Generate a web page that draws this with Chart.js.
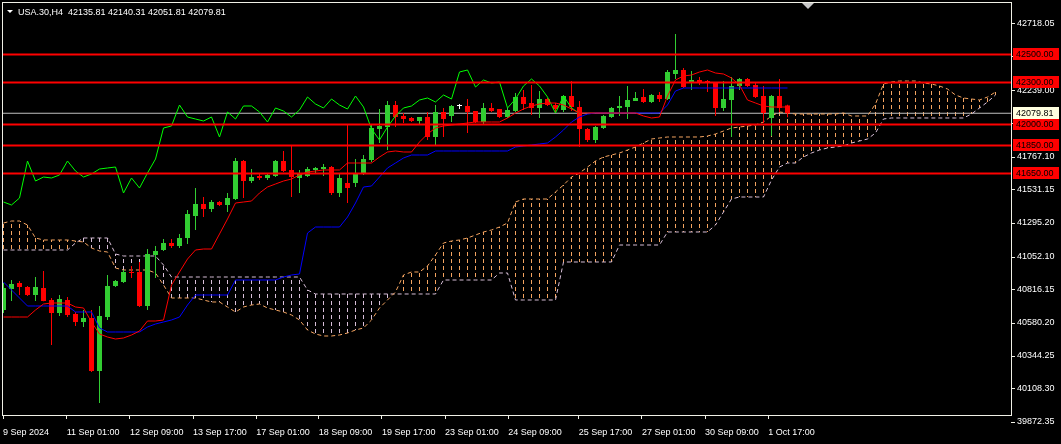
<!DOCTYPE html>
<html>
<head>
<meta charset="utf-8">
<script src="https://cdn.jsdelivr.net/npm/chart.js@4.4.1/dist/chart.umd.min.js"></script>
<style>
html, body { margin: 0; padding: 0; background: #000; overflow: hidden; }
canvas { display: block; }
</style>
</head>
<body>
<canvas id="grafico" width="1061" height="444"></canvas>
<script>
// USA.30 H4, 9 Sep - 2 Oct 2024
const simbolo = 'USA.30,H4';

const apertura = [40673.2, 40823.3, 40866.2, 40837.6, 40780.4, 40830.5, 40744.7, 40651.7, 40744.7, 40644.6,
  40587.4, 40616.0, 40237.0, 40623.2, 40844.8, 40873.4, 40944.9, 40944.9, 40701.8, 41066.4,
  41102.2, 41152.2, 41130.8, 41188.0, 41345.2, 41431.0, 41395.3, 41445.3, 41423.9, 41466.8,
  41738.5, 41595.5, 41631.3, 41617.0, 41631.3, 41738.5, 41674.2, 41617.0, 41631.3, 41674.2,
  41681.3, 41695.6, 41509.7, 41581.2, 41581.2, 41645.6, 41745.7, 41967.3, 41981.6, 42138.9,
  42060.3, 42046.0, 42024.5, 42053.1, 41910.2, 42088.9, 42060.3, 42131.8, 42131.8, 42096.0,
  42017.4, 42117.5, 42110.3, 42053.1, 42096.0, 42196.1, 42153.2, 42117.5, 42181.8, 42138.9,
  42103.2, 42203.3, 42124.6, 41967.3, 41888.7, 41974.5, 42053.1, 42117.5, 42124.6, 42167.5,
  42196.1, 42160.4, 42210.4, 42181.8, 42360.6, 42389.2, 42296.2, 42317.7, 42310.5, 42296.2,
  42117.5, 42174.7, 42274.8, 42324.8, 42281.9, 42203.3, 42046.0, 42203.3, 42135.81];

const massimo = [40866.2, 40887.6, 40880.5, 40844.8, 40909.1, 40952.0, 40759.0, 40780.4, 40766.1, 40658.8,
  40673.2, 40673.2, 40701.8, 40923.4, 40887.6, 40959.0, 40987.8, 41016.4, 41109.3, 41130.8,
  41180.8, 41180.8, 41216.6, 41388.2, 41545.5, 41481.1, 41459.7, 41452.5, 41509.7, 41760.0,
  41745.7, 41681.3, 41652.7, 41645.6, 41745.7, 41810.1, 41845.8, 41674.2, 41695.6, 41695.6,
  41717.1, 41702.7, 41652.7, 41995.9, 41752.8, 41781.4, 41995.9, 42110.3, 42167.5, 42167.5,
  42081.7, 42053.1, 42053.1, 42088.9, 42138.9, 42117.5, 42138.9, 42146.1, 42181.8, 42096.0,
  42153.2, 42153.2, 42110.3, 42117.5, 42224.7, 42246.2, 42281.9, 42239.0, 42189.0, 42153.2,
  42210.4, 42310.5, 42167.5, 41974.5, 41988.8, 42067.4, 42124.6, 42203.3, 42274.8, 42231.9,
  42253.3, 42217.6, 42231.9, 42389.2, 42646.5, 42403.5, 42382.0, 42339.1, 42317.7, 42303.4,
  42310.5, 42339.1, 42332.0, 42332.0, 42296.2, 42274.8, 42210.4, 42324.8, 42140.31];

const minimo = [40651.7, 40737.5, 40780.4, 40773.0, 40737.5, 40735.0, 40423.0, 40630.3, 40623.2, 40558.8,
  40551.6, 40230.0, 40008.2, 40601.7, 40837.6, 40866.2, 40902.0, 40695.0, 40673.2, 40902.0,
  41095.0, 41116.5, 41116.5, 41145.1, 41245.2, 41338.1, 41373.8, 41416.7, 41373.8, 41459.7,
  41474.0, 41581.2, 41602.7, 41602.7, 41624.1, 41660.0, 41481.1, 41509.7, 41624.1, 41652.7,
  41631.3, 41495.4, 41481.1, 41438.2, 41552.6, 41638.4, 41731.4, 41867.3, 41817.2, 41981.6,
  42010.2, 42017.4, 41995.9, 41888.7, 41853.0, 41910.2, 42017.4, 42110.3, 41938.7, 42010.2,
  41995.9, 42088.9, 42046.0, 42046.0, 42088.9, 42103.2, 42067.4, 42046.0, 42131.8, 42081.7,
  42088.9, 42096.0, 41838.7, 41874.4, 41867.3, 41967.3, 42046.0, 42060.3, 42038.8, 42167.5,
  42153.2, 42153.2, 42160.4, 42174.7, 42324.8, 42260.5, 42246.2, 42281.9, 42231.9, 42060.3,
  42096.0, 41910.2, 42246.2, 42267.6, 42189.0, 42010.2, 41917.3, 42088.9, 42051.81];

const chiusura = [40830.5, 40859.1, 40837.6, 40780.4, 40837.6, 40737.5, 40651.7, 40751.8, 40637.4, 40587.4,
  40616.0, 40237.0, 40630.3, 40844.8, 40880.5, 40944.9, 40937.8, 40701.8, 41073.6, 41095.0,
  41152.2, 41130.8, 41188.0, 41359.5, 41431.0, 41395.3, 41445.3, 41423.9, 41474.0, 41738.5,
  41595.5, 41624.1, 41617.0, 41638.4, 41738.5, 41667.0, 41624.1, 41645.6, 41681.3, 41688.5,
  41695.6, 41509.7, 41617.0, 41545.5, 41652.7, 41752.8, 41974.5, 41988.8, 42138.9, 42053.1,
  42038.8, 42024.5, 42053.1, 41910.2, 42088.9, 42038.8, 42131.8, 42131.8, 42088.9, 42017.4,
  42117.5, 42096.0, 42053.1, 42103.2, 42196.1, 42146.1, 42117.5, 42181.8, 42138.9, 42110.3,
  42203.3, 42124.6, 41967.3, 41888.7, 41981.6, 42060.3, 42117.5, 42131.8, 42174.7, 42189.0,
  42160.4, 42210.4, 42181.8, 42374.9, 42389.2, 42267.6, 42317.7, 42296.2, 42303.4, 42117.5,
  42181.8, 42274.8, 42324.8, 42274.8, 42196.1, 42081.7, 42203.3, 42117.5, 42079.81];

// Ichimoku
const tenkan = [40623.1, 40623.1, 40623.1, 40623.1, 40673.2, 40716.1, 40723.2, 40723.2, 40723.2, 40694.6,
  40687.5, 40587.4, 40501.6, 40480.1, 40465.8, 40473.0, 40494.4, 40523.0, 40594.5, 40594.5,
  40601.7, 40851.9, 40944.9, 41037.8, 41102.2, 41109.3, 41109.3, 41216.6, 41323.8, 41438.2,
  41445.3, 41452.5, 41509.7, 41552.6, 41574.1, 41595.5, 41609.8, 41638.4, 41659.9, 41667.0,
  41674.2, 41674.2, 41674.2, 41724.2, 41724.2, 41724.2, 41724.2, 41767.1, 41802.9, 41810.1,
  41802.9, 41802.9, 41874.4, 41931.6, 41974.5, 41988.8, 41995.9, 42003.1, 42010.2, 42017.4,
  42017.4, 42017.4, 42017.4, 42046.0, 42081.7, 42110.3, 42131.8, 42146.1, 42153.2, 42153.2,
  42138.9, 42110.3, 42081.7, 42081.7, 42081.7, 42081.7, 42081.7, 42081.7, 42081.7, 42081.7,
  42060.3, 42046.0, 42053.1, 42203.3, 42317.7, 42346.3, 42353.4, 42374.9, 42389.2, 42367.7,
  42360.6, 42332.0, 42281.9, 42174.7, 42153.2, 42131.8, 42124.6, 42124.6, 42124.6];

const kijun = [40873.4, 40816.2, 40759.0, 40701.8, 40701.8, 40701.8, 40701.8, 40701.8, 40701.8, 40658.9,
  40658.9, 40658.9, 40544.5, 40515.9, 40515.9, 40515.9, 40515.9, 40515.9, 40551.6, 40573.1,
  40587.4, 40601.7, 40623.2, 40708.9, 40780.4, 40780.4, 40780.4, 40780.4, 40780.4, 40887.6,
  40887.6, 40887.6, 40887.6, 40887.6, 40887.6, 40909.1, 40923.4, 40930.6, 41223.7, 41266.6,
  41266.6, 41266.6, 41266.6, 41338.1, 41438.2, 41552.6, 41559.8, 41624.1, 41688.5, 41724.2,
  41760.0, 41781.4, 41781.4, 41781.4, 41810.1, 41810.1, 41810.1, 41810.1, 41810.1, 41810.1,
  41810.1, 41810.1, 41810.1, 41810.1, 41838.7, 41845.8, 41853.0, 41860.1, 41867.3, 41910.2,
  41960.2, 42017.4, 42053.1, 42074.6, 42081.7, 42081.7, 42081.7, 42081.7, 42081.7, 42081.7,
  42081.7, 42081.7, 42081.7, 42138.9, 42239.0, 42260.5, 42260.5, 42260.5, 42260.5, 42260.5,
  42260.5, 42260.5, 42260.5, 42260.5, 42260.5, 42260.5, 42260.5, 42260.5, 42260.5];

// chikou: chiusure spostate indietro di 26 barre
const chikou = [41445.3, 41423.9, 41474.0, 41738.5, 41595.5, 41624.1, 41617.0, 41638.4, 41738.5, 41667.0,
  41624.1, 41645.6, 41681.3, 41688.5, 41695.6, 41509.7, 41617.0, 41545.5, 41652.7, 41752.8,
  41974.5, 41988.8, 42138.9, 42053.1, 42038.8, 42024.5, 42053.1, 41910.2, 42088.9, 42038.8,
  42131.8, 42131.8, 42088.9, 42017.4, 42117.5, 42096.0, 42053.1, 42103.2, 42196.1, 42146.1,
  42117.5, 42181.8, 42138.9, 42110.3, 42203.3, 42124.6, 41967.3, 41888.7, 41981.6, 42060.3,
  42117.5, 42131.8, 42174.7, 42189.0, 42160.4, 42210.4, 42181.8, 42374.9, 42389.2, 42267.6,
  42317.7, 42296.2, 42303.4, 42117.5, 42181.8, 42274.8, 42324.8, 42274.8, 42196.1, 42081.7,
  42203.3, 42117.5, 42079.81];

// senkou span A e B (125 barre, 26 oltre l'ultima candela)
const senkouA = [41295.2, 41309.5, 41309.5, 41280.9, 41188.0, 41173.7, 41173.7, 41173.7, 41173.7, 41166.5,
  41159.4, 41116.5, 41095.0, 41087.9, 40973.5, 40959.2, 40959.2, 40959.2, 40959.2, 40937.8,
  40851.9, 40759.0, 40759.0, 40759.0, 40759.0, 40744.7, 40730.4, 40730.4, 40694.6, 40658.9,
  40694.6, 40708.9, 40716.1, 40687.5, 40673.2, 40658.9, 40637.4, 40601.7, 40530.2, 40501.6,
  40487.3, 40487.3, 40494.4, 40508.7, 40530.2, 40544.5, 40601.7, 40687.5, 40744.7, 40801.9,
  40923.4, 40944.9, 40944.9, 40987.8, 41066.4, 41152.2, 41166.5, 41173.7, 41188.0, 41209.4,
  41230.9, 41245.2, 41266.6, 41295.2, 41445.3, 41466.8, 41466.8, 41466.8, 41466.8, 41516.9,
  41566.9, 41624.1, 41652.7, 41695.6, 41738.5, 41767.1, 41781.4, 41795.7, 41817.2, 41838.7,
  41867.3, 41895.8, 41902.9, 41910.2, 41910.2, 41910.2, 41910.2, 41910.2, 41917.3, 41931.6,
  41953.0, 41974.5, 41981.6, 41988.8, 41995.9, 42017.4, 42060.3, 42088.9, 42081.7, 42074.6,
  42074.6, 42074.6, 42074.6, 42074.6, 42074.6, 42081.7, 42060.3, 42060.3, 42060.3, 42146.1,
  42289.1, 42303.4, 42310.5, 42310.5, 42310.5, 42296.2, 42289.1, 42274.8, 42253.3, 42210.4,
  42189.0, 42181.8, 42174.7, 42196.1, 42231.9];

const senkouB = [41102.2, 41102.2, 41102.2, 41102.2, 41102.2, 41102.2, 41102.2, 41102.2, 41102.2, 41152.2,
  41188.0, 41188.0, 41188.0, 41188.0, 41073.6, 41059.3, 41059.3, 41059.3, 41059.3, 41059.3,
  40994.9, 40909.1, 40909.1, 40909.1, 40909.1, 40909.1, 40909.1, 40909.1, 40909.1, 40909.1,
  40909.1, 40909.1, 40909.1, 40909.1, 40909.1, 40909.1, 40909.1, 40909.1, 40816.2, 40787.6,
  40787.6, 40787.6, 40787.6, 40787.6, 40787.6, 40787.6, 40787.6, 40787.6, 40787.6, 40787.6,
  40787.6, 40787.6, 40787.6, 40787.6, 40787.6, 40887.6, 40887.6, 40887.6, 40887.6, 40887.6,
  40887.6, 40887.6, 40937.8, 40937.8, 40744.7, 40744.7, 40744.7, 40744.7, 40744.7, 40744.7,
  41016.4, 41016.4, 41016.4, 41016.4, 41016.4, 41016.4, 41016.4, 41137.9, 41137.9, 41137.9,
  41137.9, 41137.9, 41137.9, 41230.9, 41230.9, 41230.9, 41230.9, 41230.9, 41230.9, 41280.9,
  41373.8, 41466.8, 41481.1, 41481.1, 41481.1, 41481.1, 41602.7, 41695.6, 41724.2, 41724.2,
  41767.1, 41795.7, 41817.2, 41831.5, 41838.7, 41845.8, 41867.3, 41881.6, 41895.8, 41938.7,
  42038.8, 42046.0, 42046.0, 42046.0, 42046.0, 42046.0, 42046.0, 42046.0, 42046.0, 42046.0,
  42046.0, 42074.6, 42117.5, 42160.4, 42210.4];

// linee orizzontali e prezzo corrente
const livelli = [42500, 42300, 42000, 41850, 41650];
const prezzoAttuale = 42079.81;

// assi
const tickPrezzi = [42718.05, 42482.10, 42239.00, 42003.05, 41767.10, 41531.15, 41295.20,
  41052.10, 40816.15, 40580.20, 40344.25, 40108.30, 39872.35];
const tickDate = ['9 Sep 2024', '11 Sep 01:00', '12 Sep 09:00', '13 Sep 17:00', '17 Sep 01:00',
  '18 Sep 09:00', '19 Sep 17:00', '23 Sep 01:00', '24 Sep 09:00', '25 Sep 17:00',
  '27 Sep 01:00', '30 Sep 09:00', '1 Oct 17:00'];
const barreDate = [-0.06, 7.9, 15.8, 23.7, 31.6, 39.4, 47.3, 55.2, 63.1, 71.9, 79.8, 87.7, 95.6];

const FONT = '"Liberation Sans", Arial, sans-serif';

function creaGrafico(idCanvas) {
    const canvas = document.getElementById(idCanvas);
    const ctx = canvas.getContext('2d');

    const verde = '#32cd32';
    const rosso = '#ff0000';
    const sabbia = '#f4a460';
    const cardo = '#d8bfd8';

    const punti = arr => arr.map((v, i) => ({ x: i, y: v }));

    const coloriCandele = apertura.map((o, i) => {
        if (chiusura[i] > o) return verde;
        if (chiusura[i] < o) return rosso;
        return '#ffffff';
    });

    // tratteggio verticale della nuvola
    const tratteggio = colore => {
        const c = document.createElement('canvas');
        c.width = 1;
        c.height = 7;
        const g = c.getContext('2d');
        g.fillStyle = colore;
        g.fillRect(0, 0, 1, 4);
        return ctx.createPattern(c, 'repeat');
    };
    const patSabbia = tratteggio(sabbia);
    const patCardo = tratteggio(cardo);

    const lineaBase = {
        type: 'line',
        pointRadius: 0,
        borderWidth: 1,
        tension: 0,
        fill: false
    };

    const datasets = [];

    livelli.forEach(lv => {
        datasets.push({
            ...lineaBase,
            data: [{ x: -2, y: lv }, { x: 130, y: lv }],
            borderColor: rosso,
            borderWidth: 2,
            order: 1
        });
    });

    datasets.push({ ...lineaBase, data: punti(tenkan), borderColor: '#ff0000', order: 4 });
    datasets.push({ ...lineaBase, data: punti(kijun), borderColor: '#0000ff', order: 4 });
    datasets.push({ ...lineaBase, data: punti(chikou), borderColor: '#00ff00', order: 4 });

    datasets.push({
        type: 'bar',
        data: apertura.map((o, i) => ({ x: i, y: [o, chiusura[i]] })),
        backgroundColor: coloriCandele,
        barThickness: 5,
        minBarLength: 1,
        grouped: false,
        inflateAmount: 0,
        order: 5
    });
    datasets.push({
        type: 'bar',
        data: minimo.map((l, i) => ({ x: i, y: [l, massimo[i]] })),
        backgroundColor: coloriCandele,
        barThickness: 1,
        grouped: false,
        inflateAmount: 0,
        order: 6
    });

    datasets.push({ ...lineaBase, data: punti(senkouA), borderColor: sabbia, borderDash: [4, 3], order: 7 });
    datasets.push({ ...lineaBase, data: punti(senkouB), borderColor: cardo, borderDash: [4, 3], order: 7 });

    datasets.push({
        ...lineaBase,
        data: [{ x: -2, y: prezzoAttuale }, { x: 130, y: prezzoAttuale }],
        borderColor: '#c0c0c0',
        order: 8
    });

    datasets.push({
        type: 'bar',
        data: senkouA.map((a, i) => ({ x: i, y: [a, senkouB[i]] })),
        backgroundColor: senkouA.map((a, i) => a >= senkouB[i] ? patSabbia : patCardo),
        barThickness: 1,
        grouped: false,
        inflateAmount: 0,
        order: 9
    });

    const cornice = {
        id: 'cornice',
        beforeDraw(chart) {
            const c = chart.ctx;
            c.save();
            c.fillStyle = '#000';
            c.fillRect(0, 0, chart.width, chart.height);
            c.restore();
        },
        afterDraw(chart) {
            const c = chart.ctx;
            const a = chart.chartArea;
            const y = chart.scales.y;
            c.save();
            c.strokeStyle = '#f0f0e6';
            c.lineWidth = 1;
            c.strokeRect(a.left - 0.5, a.top - 0.5, a.right - a.left + 1, a.bottom - a.top + 1);

            c.font = '9px ' + FONT;
            c.textBaseline = 'middle';
            c.textAlign = 'left';
            livelli.forEach(lv => {
                const py = Math.round(y.getPixelForValue(lv));
                c.fillStyle = rosso;
                c.fillRect(a.right + 2, py - 6, 46, 12);
                c.fillStyle = '#000';
                c.fillText(lv.toFixed(2), a.right + 5, py + 0.5);
            });
            const pp = Math.round(y.getPixelForValue(prezzoAttuale));
            c.fillStyle = '#ffffe0';
            c.fillRect(a.right + 2, pp - 6, 46, 12);
            c.fillStyle = '#000';
            c.fillText(prezzoAttuale.toFixed(2), a.right + 5, pp + 0.5);

            // intestazione
            const n = apertura.length - 1;
            c.fillStyle = '#ffffff';
            c.beginPath();
            c.moveTo(7, 10);
            c.lineTo(13, 10);
            c.lineTo(10, 13);
            c.closePath();
            c.fill();
            c.textBaseline = 'alphabetic';
            c.fillText(simbolo + '  ' + [apertura[n], massimo[n], minimo[n], chiusura[n]].map(v => v.toFixed(2)).join(' '), 18, 15);

            // indicatore di shift
            c.fillStyle = '#c8c8c8';
            c.beginPath();
            c.moveTo(802, 3);
            c.lineTo(814, 3);
            c.lineTo(808, 9);
            c.closePath();
            c.fill();
            c.restore();
        }
    };

    new Chart(ctx, {
        type: 'bar',
        data: { datasets: datasets },
        options: {
            responsive: false,
            animation: false,
            events: [],
            layout: { padding: { left: 3, top: 3, right: 0, bottom: 0 } },
            plugins: {
                legend: { display: false },
                tooltip: { enabled: false }
            },
            scales: {
                x: {
                    type: 'linear',
                    offset: false,
                    min: -0.0625,
                    max: 125.9375,
                    afterFit: s => { s.height = 29; s.paddingLeft = 0; s.paddingRight = 0; },
                    afterBuildTicks: s => { s.ticks = barreDate.map(v => ({ value: v })); },
                    ticks: {
                        color: '#ffffff',
                        font: { family: FONT, size: 9 },
                        align: 'start',
                        maxRotation: 0,
                        autoSkip: false,
                        padding: 8,
                        callback: (v, i) => tickDate[i]
                    },
                    grid: { offset: false, drawOnChartArea: false, color: '#f0f0e6', tickLength: 4 },
                    border: { display: false }
                },
                y: {
                    type: 'linear',
                    position: 'right',
                    min: 39922.4,
                    max: 42868.2,
                    afterFit: s => { s.width = 50; s.paddingTop = 0; s.paddingBottom = 0; },
                    afterBuildTicks: s => { s.ticks = tickPrezzi.map(v => ({ value: v })); },
                    ticks: {
                        color: '#ffffff',
                        font: { family: FONT, size: 9 },
                        autoSkip: false,
                        padding: 2,
                        callback: v => v.toFixed(2)
                    },
                    grid: { drawOnChartArea: false, color: '#f0f0e6', tickLength: 4 },
                    border: { display: false }
                }
            }
        },
        plugins: [cornice]
    });
}

creaGrafico('grafico');
</script>
</body>
</html>
